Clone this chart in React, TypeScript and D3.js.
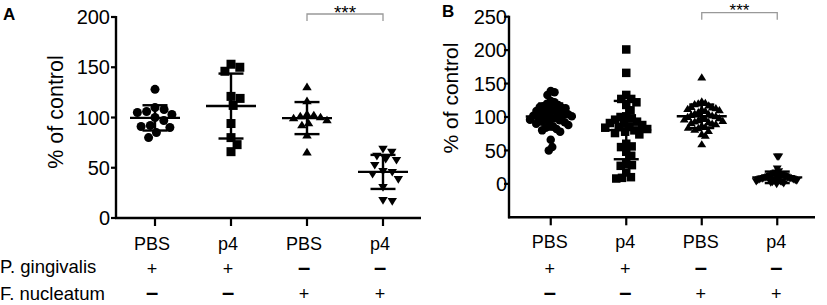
import React from "react";
import * as d3 from "d3";

// ---------- data ----------
const categories = ["PBS", "p4", "PBS", "p4"];
const pgRow = ["+", "+", "–", "–"];
const fnRow = ["–", "–", "+", "+"];
const rowLabels = ["P. gingivalis", "F. nucleatum"];
const yTicksA = [0, 50, 100, 150, 200];
const yTicksB = [0, 50, 100, 150, 200, 250];
const yTitle = "% of control";
const sigLabel = "***";

// Panel A
const aPbsPg = [128, 110, 108, 106, 105, 103, 100, 97, 92, 91, 90, 85, 80];
const aP4Pg = [153, 150, 146, 121, 119, 112, 94, 80, 73, 66];
const aPbsFn = [131, 117, 104, 103, 102, 101, 100, 98, 95, 93, 83, 66];
const aP4Fn = [68, 65, 61, 58, 57, 52, 46, 45, 43, 38, 30, 17, 16];

// Panel B
const bPbsPg = [139, 137, 133, 124, 122, 120, 118, 116, 115, 114, 113, 112, 110, 109, 108, 106, 105, 104, 103, 102,
  101, 100, 99, 98, 97, 96, 95, 93, 92, 90, 89, 88, 86, 84, 82, 80, 78, 66, 55, 50];
const bP4Pg = [201, 166, 133, 127, 127, 122, 118, 110, 101, 100, 98, 96, 93, 91, 90, 88, 86, 85, 84, 82, 80, 78, 76, 74,
  60, 56, 55, 48, 42, 30, 28, 27, 17, 10, 9, 8];
const bPbsFn = [160, 124, 122, 121, 120, 118, 116, 115, 114, 113, 112, 111, 110, 108, 106, 105, 104, 103, 102, 101,
  100, 99, 98, 97, 96, 95, 94, 93, 92, 91, 90, 88, 86, 85, 84, 82, 80, 75, 73, 60];
const bP4Fn = [40, 40, 22, 18, 16, 15, 14, 14, 13, 12, 12, 11, 11, 10, 10, 10, 9, 9, 9, 8, 8, 8, 7, 7, 7, 6, 6, 6, 5, 5,
  5, 4, 4, 3, 3, 2, 2, 1, 0, -1];

const shapes = ["circle", "square", "triangle", "triangleDown"];

const FONT = "'Liberation Sans', Arial, Helvetica, sans-serif";

type Pt = { v: number; y: number; x: number };

function swarm(values: number[], y: (v: number) => number, d: number, maxW: number): Pt[] {
  const pts: Pt[] = values.map((v) => ({ v, y: y(v), x: 0 }));
  const order = [...pts].sort((a, b) => a.y - b.y);
  const placed: Pt[] = [];
  for (const p of order) {
    const cands = [0];
    for (const q of placed) {
      const dy = Math.abs(q.y - p.y);
      if (dy < d) {
        const dx = Math.sqrt(d * d - dy * dy);
        cands.push(q.x + dx, q.x - dx);
      }
    }
    cands.sort((a, b) => Math.abs(a) - Math.abs(b) || b - a);
    let chosen = 0;
    for (const c of cands) {
      let ok = true;
      for (const q of placed) {
        const dx = q.x - c, dy = q.y - p.y;
        if (dx * dx + dy * dy < d * d - 1e-6) { ok = false; break; }
      }
      if (ok) { chosen = c; break; }
    }
    p.x = chosen;
    placed.push(p);
  }
  const ext = d3.max(pts, (p) => Math.abs(p.x)) || 0;
  if (ext > maxW) {
    const k = maxW / ext;
    pts.forEach((p) => (p.x *= k));
  }
  return pts;
}

function Marker({ shape, x, y, s }: { shape: string; x: number; y: number; s: number }) {
  if (shape === "circle") return <circle cx={x} cy={y} r={s / 2} fill="#000" />;
  if (shape === "square") return <rect x={x - s / 2} y={y - s / 2} width={s} height={s} fill="#000" />;
  const h = s * 0.85;
  const w = s * 1.05;
  if (shape === "triangle")
    return <path d={`M${x},${y - h / 2}L${x + w / 2},${y + h / 2}L${x - w / 2},${y + h / 2}Z`} fill="#000" />;
  return <path d={`M${x},${y + h / 2}L${x + w / 2},${y - h / 2}L${x - w / 2},${y - h / 2}Z`} fill="#000" />;
}

type PanelProps = {
  letter: string;
  letterX: number;
  letterY: number;
  data: number[][];
  yDomain: [number, number];
  yRange: [number, number];
  ticks: number[];
  axisX: number;
  axisEnd: number;
  xRange: [number, number];
  titleX: number;
  titleY: number;
  titleSize: number;
  tickLabelX: number;
  sigY: number;
  sigTextY: number;
  sigSize: number;
  collide: number;
  size: number;
  maxW: number;
  tableShift: number;
  headY: number;
};

function Sign({ x, y, s }: { x: number; y: number; s: string }) {
  if (s === "+") return <text x={x} y={y} fontSize={18}>{s}</text>;
  return <text x={x} y={y - 0.5} fontSize={22} fontWeight="bold">{s}</text>;
}

function Panel(p: PanelProps) {
  const y = d3.scaleLinear().domain(p.yDomain).range(p.yRange);
  const x = d3.scalePoint<number>().domain(d3.range(categories.length)).range(p.xRange).padding(0.5);
  const axisY = p.yRange[0];
  const top = y(p.ticks[p.ticks.length - 1]);
  const x2 = x(2)!, x3 = x(3)!;
  return (
    <g>
      <text x={p.letterX} y={p.letterY} fontFamily={FONT} fontWeight="bold" fontSize={17}>{p.letter}</text>
      {/* y axis */}
      <line x1={p.axisX} x2={p.axisX} y1={top - 1} y2={axisY + 1} stroke="#000" strokeWidth={2.4} />
      {p.ticks.map((t) => (
        <g key={t}>
          <line x1={p.axisX - 5} x2={p.axisX} y1={y(t)} y2={y(t)} stroke="#000" strokeWidth={2.2} />
          <text x={p.tickLabelX} y={y(t)} dy="0.36em" textAnchor="end" fontFamily={FONT} fontSize={20}>{t}</text>
        </g>
      ))}
      <text transform={`translate(${p.titleX},${p.titleY}) rotate(-90)`} textAnchor="middle" fontFamily={FONT}
        fontSize={p.titleSize}>{yTitle}</text>
      {/* x axis */}
      <line x1={p.axisX - 1} x2={p.axisEnd} y1={axisY} y2={axisY} stroke="#000" strokeWidth={2.4} />
      {categories.map((c, i) => (
        <line key={i} x1={x(i)} x2={x(i)} y1={axisY} y2={axisY + 8} stroke="#000" strokeWidth={2.2} />
      ))}
      {/* points */}
      {p.data.map((vals, i) => {
        const pts = swarm(vals, y, p.collide, p.maxW);
        const m = d3.mean(vals)!;
        const sd = d3.deviation(vals)!;
        const cx = x(i)!;
        return (
          <g key={i}>
            {pts.map((pt, j) => (
              <Marker key={j} shape={shapes[i]} x={cx + pt.x} y={pt.y} s={p.size} />
            ))}
            <line x1={cx} x2={cx} y1={y(m + sd)} y2={y(m - sd)} stroke="#000" strokeWidth={2.4} />
            <line x1={cx - 12.5} x2={cx + 12.5} y1={y(m + sd)} y2={y(m + sd)} stroke="#000" strokeWidth={2.4} />
            <line x1={cx - 12.5} x2={cx + 12.5} y1={y(m - sd)} y2={y(m - sd)} stroke="#000" strokeWidth={2.4} />
            <line x1={cx - 25} x2={cx + 25} y1={y(m)} y2={y(m)} stroke="#000" strokeWidth={2.4} />
          </g>
        );
      })}
      {/* significance bracket */}
      <path d={`M${x2},${p.sigY + 7}V${p.sigY}H${x3}V${p.sigY + 7}`} fill="none" stroke="#999" strokeWidth={1.3} />
      <text x={(x2 + x3) / 2} y={p.sigTextY} textAnchor="middle" fontFamily={FONT} fontSize={p.sigSize}>{sigLabel}</text>
      {/* condition table */}
      {categories.map((c, i) => {
        const tx = x(i)! + p.tableShift;
        return (
          <g key={i} fontFamily={FONT} fontSize={18} textAnchor="middle">
            <text x={tx} y={p.headY}>{c}</text>
            <Sign x={tx} y={275} s={pgRow[i]} />
            <Sign x={tx} y={300} s={fnRow[i]} />
          </g>
        );
      })}
    </g>
  );
}

export default function App() {
  return (
    <svg width={827} height={305} style={{ position: "absolute", left: 0, top: 0, background: "#fff" }}>
      <rect width={827} height={305} fill="#fff" />
      <Panel letter="A" letterX={3} letterY={20} data={[aPbsPg, aP4Pg, aPbsFn, aP4Fn]}
        yDomain={[0, 200]} yRange={[218, 17]} ticks={yTicksA} axisX={116} axisEnd={421}
        xRange={[117, 421]} titleX={63} titleY={112} titleSize={21.5} tickLabelX={110}
        sigY={14} sigTextY={18.5} sigSize={19} collide={9.3} size={9} maxW={20} tableShift={-3} headY={250} />
      <Panel letter="B" letterX={442} letterY={17} data={[bPbsPg, bP4Pg, bPbsFn, bP4Fn]}
        yDomain={[-50, 250]} yRange={[217.3, 16.7]} ticks={yTicksB} axisX={509} axisEnd={815}
        xRange={[513, 815]} titleX={458} titleY={98} titleSize={21} tickLabelX={507}
        sigY={12.7} sigTextY={16} sigSize={17} collide={8} size={8.5} maxW={21} tableShift={-1} headY={248} />
      <g fontFamily={FONT} fontSize={18.5}>
        <text x={0} y={273}>{rowLabels[0]}</text>
        <text x={0} y={300}>{rowLabels[1]}</text>
      </g>
    </svg>
  );
}
